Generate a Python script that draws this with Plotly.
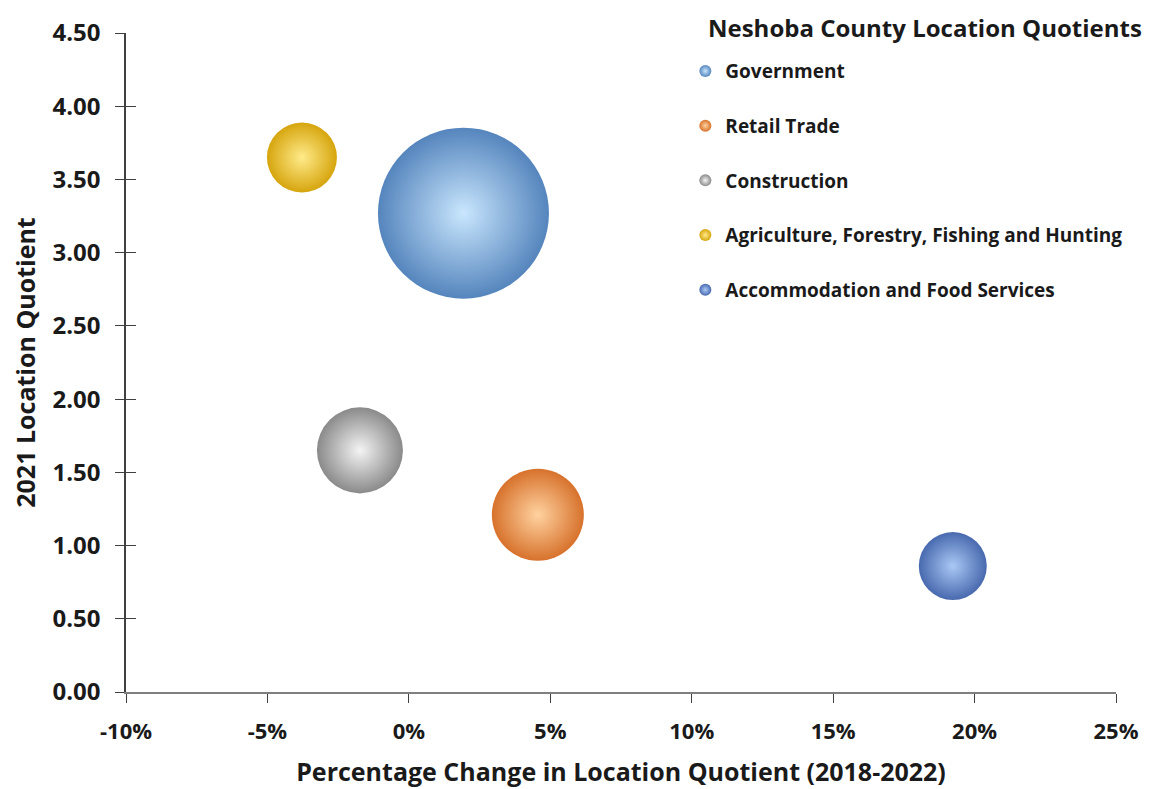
import plotly.graph_objects as go

industries = ["Government", "Retail Trade", "Construction",
              "Agriculture, Forestry, Fishing and Hunting",
              "Accommodation and Food Services"]
pct_change = [0.0193, 0.0456, -0.0173, -0.0378, 0.1923]
lq_2021 = [3.27, 1.21, 1.65, 3.65, 0.86]
bubble_size = [2924, 846, 740, 490, 462]

edge_colors = ["#5585bd", "#d7722c", "#8a8a8a", "#d6a50e", "#4869ae"]
light_colors = ["#c9e6fd", "#ffd2a0", "#f4f4f4", "#ffeb8a", "#aac8f5"]

x_ticks = [-0.10, -0.05, 0.0, 0.05, 0.10, 0.15, 0.20, 0.25]
x_ticktext = ["-10%", "-5%", "0%", "5%", "10%", "15%", "20%", "25%"]
y_ticks = [0, 0.5, 1.0, 1.5, 2.0, 2.5, 3.0, 3.5, 4.0, 4.5]

max_diam = 171
sizeref = 2.0 * max(bubble_size) / (max_diam ** 2)

FONT = "'Open Sans', Lato, sans-serif"
TXT = "#1a1a1a"

fig = go.Figure()
for i, name in enumerate(industries):
    fig.add_trace(go.Scatter(
        x=[pct_change[i]], y=[lq_2021[i]],
        mode="markers", name="<b>" + name + "</b>", legendgroup=name,
        marker=dict(size=[bubble_size[i]], sizemode="area", sizeref=sizeref,
                    color=edge_colors[i],
                    gradient=dict(type="radial", color=light_colors[i]),
                    line=dict(width=0), opacity=1),
        hovertemplate=name + "<br>%{x:.1%}<br>%{y:.2f}<extra></extra>",
    ))

# overlaying axis providing the inside half of the crossing y ticks
fig.add_trace(go.Scatter(x=[None], y=[None], yaxis="y2", showlegend=False,
                         hoverinfo="skip"))

# page body has an 8px margin: figure is shifted, so compensate
fig.update_layout(
    width=1142, height=781,
    paper_bgcolor="white", plot_bgcolor="white",
    margin=dict(l=118, r=34, t=25, b=97, autoexpand=False),
    font=dict(family=FONT, color=TXT),
    showlegend=True,
    legend=dict(
        x=0.565, y=0.971, xanchor="left", yanchor="top",
        bgcolor="rgba(0,0,0,0)",
        font=dict(size=19, family=FONT, color=TXT),
        itemsizing="constant",
        traceorder="grouped",
        tracegroupgap=27,
        itemwidth=30,
    ),
    annotations=[dict(
        text="<b>Neshoba County Location Quotients</b>",
        xref="paper", yref="paper", x=0.586, y=1.009,
        xanchor="left", yanchor="middle", showarrow=False,
        font=dict(size=24, family=FONT, color=TXT),
    )],
    xaxis=dict(
        range=[-0.10, 0.25], tickvals=x_ticks, ticktext=x_ticktext,
        showgrid=False, zeroline=False,
        showline=True, linecolor="#7f7f7f", linewidth=2,
        ticks="outside", ticklen=9, tickcolor="#404040", tickwidth=1.2,
        ticklabelstandoff=10,
        tickfont=dict(size=22, family=FONT, color=TXT, weight="bold"),
        title=dict(text="<b>Percentage Change in Location Quotient (2018-2022)</b>",
                   font=dict(size=25, family=FONT, color=TXT), standoff=19),
    ),
    yaxis=dict(
        range=[0, 4.5], tickvals=y_ticks, tickformat=".2f",
        showgrid=False, zeroline=False,
        showline=True, linecolor="#404040", linewidth=1.5,
        ticks="outside", ticklen=9, tickcolor="#404040", tickwidth=1.2,
        ticklabelstandoff=10,
        tickfont=dict(size=24, family=FONT, color=TXT, weight="bold"),
        title=dict(text="<b>2021 Location Quotient</b>",
                   font=dict(size=25, family=FONT, color=TXT), standoff=12),
    ),
    yaxis2=dict(
        range=[0, 4.5], tickvals=y_ticks, overlaying="y", side="left",
        showticklabels=False, showgrid=False, zeroline=False, showline=False,
        ticks="inside", ticklen=10, tickcolor="#404040", tickwidth=1.2,
    ),
)

fig.write_html("out.html")
